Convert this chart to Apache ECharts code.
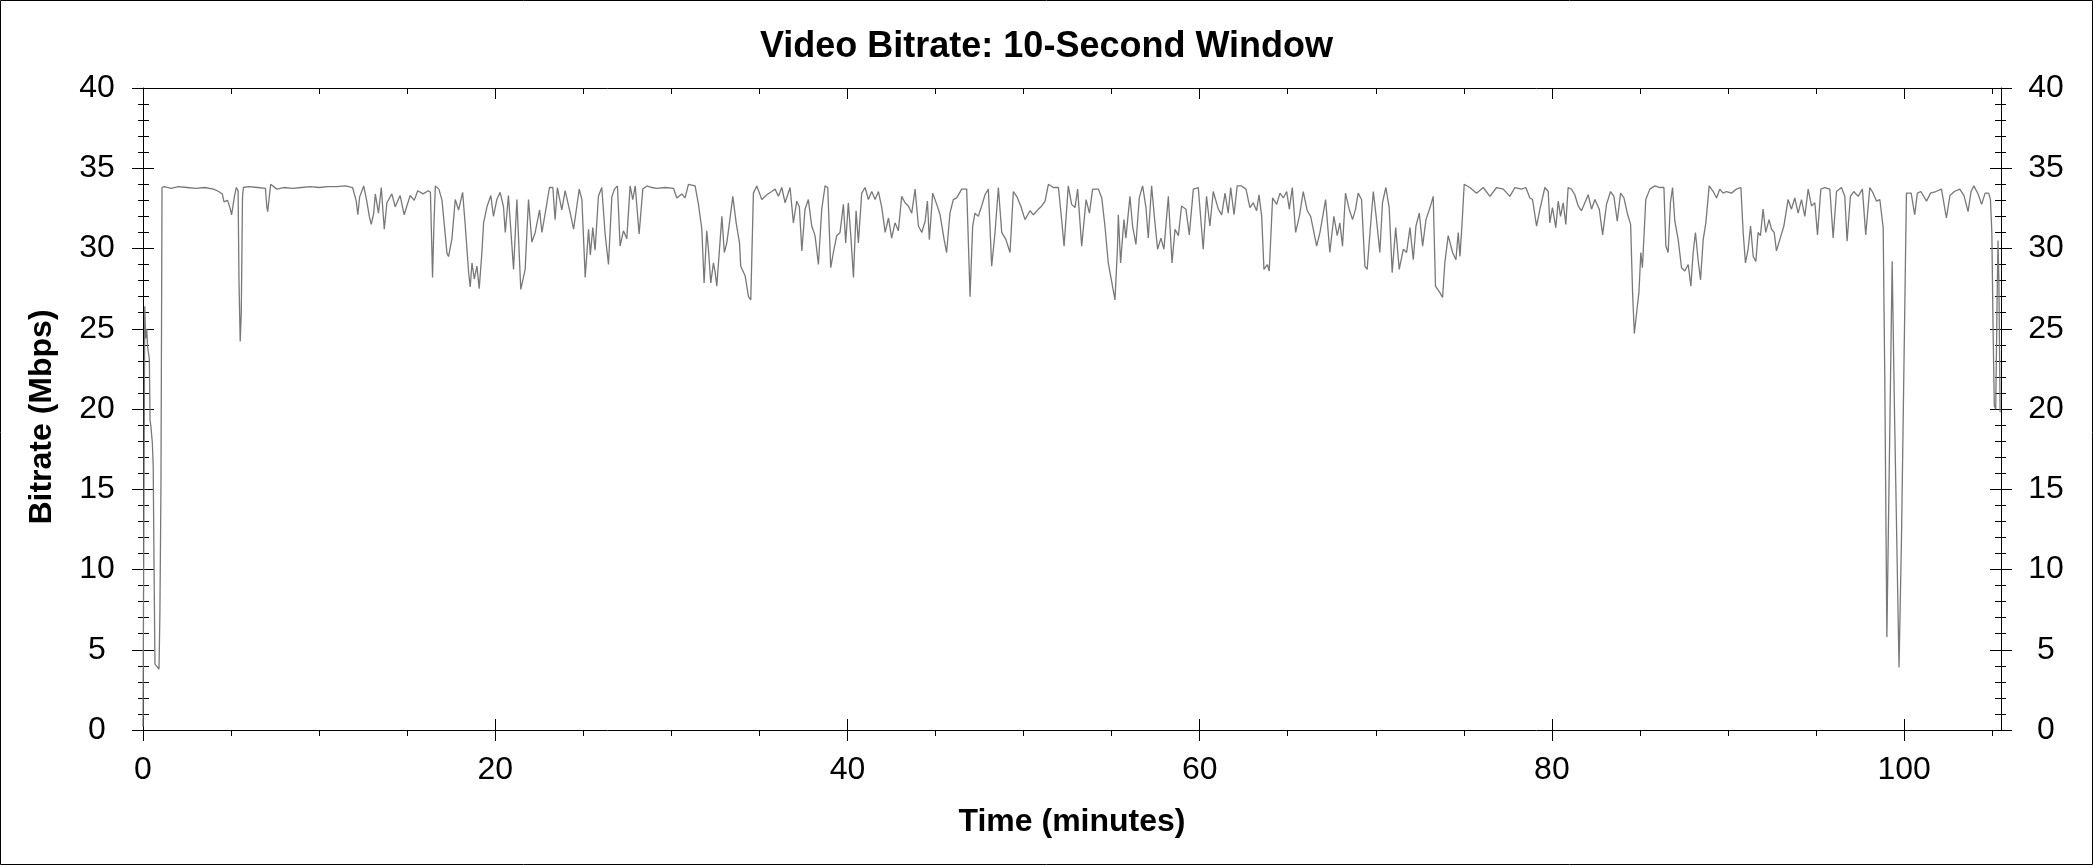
<!DOCTYPE html>
<html>
<head>
<meta charset="utf-8">
<script src="https://cdn.jsdelivr.net/npm/echarts@6.0.0/dist/echarts.min.js"></script>
<style>
html,body{margin:0;padding:0;background:#fff;}
#chart{width:2093px;height:865px;}
</style>
</head>
<body>
<div id="chart"></div>
<script>
const chartTitle = 'Video Bitrate: 10-Second Window';
const xAxisName = 'Time (minutes)';
const yAxisName = 'Bitrate (Mbps)';
const xMajorTicks = [0, 20, 40, 60, 80, 100];
const xMinorTicks = [5, 10, 15, 25, 30, 35, 45, 50, 55, 65, 70, 75, 85, 90, 95, 105];
const xRange = [0, 105.5];
const yRange = [0, 40];
const yStep = 5;

// [minute, Mbps]
const bitrateA = [[0,0.2],[0.1,26.4],[0.15,24.4],[0.21,25.0],[0.26,23.9],[0.36,23.1],[0.40,19.3],[0.45,18.9],[0.53,17.9],[0.58,16.4],[0.62,11.0],[0.68,4.1],[0.77,4.0],[0.91,3.8],[0.96,7.3],[1.02,15.2],[1.08,33.8],[1.2,33.85],[1.6,33.75],[2.0,33.85],[2.5,33.8],[3.0,33.75],[3.5,33.8],[4.0,33.7],[4.3,33.55],[4.5,33.4],[4.6,32.9],[4.8,33.0],[4.95,32.5],[5.03,32.1],[5.2,33.3],[5.3,33.8],[5.4,33.6],[5.45,28.0],[5.52,24.2],[5.58,26.0],[5.65,33.2],[5.7,33.8],[6.0,33.85],[6.5,33.8],[6.95,33.75],[7.03,32.6],[7.08,32.3],[7.15,33.0],[7.25,34.0],[7.6,33.7],[8.0,33.8],[8.5,33.75],[9.0,33.8],[9.5,33.85],[10.0,33.8],[10.5,33.85],[11.0,33.85],[11.5,33.9],[11.9,33.8],[12.1,33.0],[12.2,32.1],[12.3,33.2],[12.53,33.9],[12.7,33.0],[12.85,32.0],[12.96,31.5],[13.1,32.2],[13.19,33.4],[13.37,32.2],[13.53,33.8],[13.7,31.2],[13.85,32.85],[14.13,33.4],[14.32,32.6],[14.6,33.3],[14.83,32.1],[15.17,33.3],[15.4,33.0],[15.6,33.6],[15.9,33.4],[16.2,33.6],[16.32,33.5],[16.4,30.0],[16.44,28.2],[16.52,31.5],[16.6,33.9],[16.8,33.7],[16.98,33.0],[17.26,29.7],[17.35,29.5],[17.54,30.6],[17.73,33.05],[17.92,32.4],[18.15,33.5],[18.3,31.4],[18.49,28.5],[18.58,27.6],[18.68,29.1],[18.81,28.1],[18.96,28.9],[19.09,27.5],[19.24,29.7],[19.34,31.6],[19.53,32.6],[19.75,33.3],[19.9,32.0],[20.09,33.05],[20.28,33.5],[20.47,32.6],[20.57,31.0],[20.75,33.3],[21.04,28.7],[21.23,33.05],[21.45,27.45],[21.7,28.7],[21.89,33.05],[22.08,30.4],[22.27,31.0],[22.52,32.4],[22.65,31.0],[22.84,32.2],[23.08,33.8],[23.27,33.8],[23.4,31.8],[23.53,33.8],[23.78,32.4],[23.97,33.6],[24.26,32.2],[24.45,31.2],[24.77,33.7],[24.92,33.05],[25.11,28.2],[25.3,31.2],[25.4,29.6],[25.54,31.3],[25.67,29.9],[25.86,33.26],[26.05,33.8]];

const bitrateB = [[26.24,30.9],[26.43,29.0],[26.62,33.2],[26.77,33.7],[26.94,33.9],[27.09,30.15],[27.28,31.1],[27.47,30.6],[27.66,33.9],[27.81,33.05],[27.95,33.9],[28.17,30.9],[28.38,33.7],[28.61,33.9],[28.89,33.8],[29.17,33.75],[29.65,33.8],[30.12,33.75],[30.31,33.15],[30.59,33.4],[30.78,33.15],[30.97,34.0],[31.35,33.9],[31.54,32.75],[31.73,31.2],[31.86,27.85],[32.01,31.1],[32.11,29.9],[32.24,27.85],[32.39,29.1],[32.49,28.5],[32.58,27.65],[32.73,29.9],[32.87,32.0],[33.01,29.75],[33.15,30.35],[33.3,31.6],[33.49,33.25],[33.68,31.6],[33.87,30.35],[33.94,28.9],[34.19,28.3],[34.38,27.0],[34.51,26.8],[34.66,33.45],[34.85,33.9],[35.14,33.05],[35.42,33.35],[35.7,33.55],[35.89,33.7],[36.08,33.25],[36.27,33.8],[36.46,32.85],[36.74,33.8],[36.93,31.6],[37.12,32.95],[37.27,32.6],[37.41,29.85],[37.59,32.45],[37.78,33.05],[37.97,31.4],[38.16,30.8],[38.35,29.0],[38.54,32.45],[38.73,33.9],[38.88,33.8],[39.05,28.8],[39.2,29.75],[39.39,30.8],[39.58,31.0],[39.77,32.75],[39.9,30.35],[40.05,32.85],[40.19,30.8],[40.34,28.2],[40.49,32.35],[40.62,30.35],[40.81,33.45],[41.0,33.8],[41.19,33.05],[41.38,33.55],[41.57,33.05],[41.76,33.55],[41.95,32.55],[42.14,31.0],[42.33,31.9],[42.51,30.65],[42.7,31.6],[42.89,31.1],[43.08,33.25],[43.27,32.85],[43.46,32.65],[43.65,32.2],[43.84,33.7],[44.03,31.4],[44.22,31.0],[44.41,31.7],[44.54,32.95],[44.65,30.55],[44.84,33.45],[45.07,32.75],[45.26,32.1],[45.49,30.55],[45.63,29.75],[45.82,32.2],[46.01,33.05],[46.2,33.15],[46.49,33.7],[46.77,33.7],[46.91,28.9],[46.96,27.0],[47.11,31.4],[47.24,32.2],[47.43,32.0],[47.62,32.65],[47.81,33.35],[48.0,33.7],[48.19,28.9],[48.38,31.0],[48.57,33.8],[48.76,31.0],[49.0,30.55],[49.23,29.75],[49.42,33.55],[49.61,33.25],[49.84,32.65],[50.08,31.8],[50.37,32.35],[50.56,32.1],[50.84,32.45],[51.03,32.65],[51.22,32.95],[51.41,34.0],[51.69,33.8],[51.98,33.8]];

const bitrateC = [[52.17,31.7],[52.3,30.15],[52.54,33.9],[52.73,32.75],[52.92,32.55],[53.07,33.7],[53.3,30.15],[53.55,33.05],[53.74,32.2],[53.92,33.7],[54.25,33.7],[54.44,33.15],[54.62,31.4],[54.81,29.1],[55.0,27.95],[55.1,27.85],[55.19,26.8],[55.33,29.95],[55.38,32.1],[55.51,29.1],[55.7,31.8],[55.81,30.65],[56.04,33.25],[56.19,31.4],[56.38,30.25],[56.57,33.15],[56.76,33.9],[56.95,32.55],[57.08,30.65],[57.27,33.9],[57.46,31.6],[57.61,29.95],[57.8,30.65],[57.97,29.95],[58.22,33.25],[58.43,29.1],[58.6,31.2],[58.79,30.8],[58.97,32.65],[59.22,32.45],[59.41,30.85],[59.64,33.7],[59.92,33.8],[60.2,29.95],[60.39,33.25],[60.58,31.4],[60.77,33.55],[61.06,32.45],[61.25,32.1],[61.44,33.45],[61.62,32.2],[61.76,33.8],[61.95,32.1],[62.13,33.9],[62.38,33.9],[62.63,33.7],[62.85,32.55],[63.04,32.85],[63.23,32.35],[63.37,33.35],[63.52,32.0],[63.65,28.7],[63.84,29.0],[63.95,28.6],[64.14,33.15],[64.37,32.75],[64.56,33.45],[64.75,33.15],[64.94,33.55],[65.09,32.45],[65.26,33.8],[65.45,31.0],[65.66,32.0],[65.88,33.55],[66.11,32.35],[66.3,32.0],[66.45,31.2],[66.64,30.15],[66.83,31.0],[67.15,33.05],[67.39,29.75],[67.62,32.0],[67.81,30.8],[67.96,31.6],[68.11,30.15],[68.28,33.45],[68.49,32.45],[68.68,31.8],[68.85,32.45],[69.0,33.45],[69.19,33.05],[69.38,28.9],[69.51,28.7],[69.67,31.0],[69.86,33.55],[70.04,31.8],[70.23,29.75],[70.38,32.85],[70.57,33.8],[70.76,32.55],[70.93,28.5],[71.13,31.3],[71.33,28.7],[71.56,29.95],[71.75,29.75],[71.94,31.3],[72.13,29.3],[72.28,31.4],[72.47,32.2],[72.66,30.15],[72.85,31.8],[73.08,32.55],[73.26,33.25],[73.39,27.65],[73.64,27.25],[73.79,26.95],[73.92,29.1],[74.11,30.8],[74.36,29.75],[74.55,29.3],[74.68,31.0],[74.78,29.5],[74.91,31.8],[75.02,34.0],[75.34,33.8],[75.72,33.45],[76.1,33.8],[76.48,33.25],[76.86,33.8],[77.24,33.7],[77.61,33.25],[77.9,33.8],[78.27,33.7],[78.52,33.8],[78.75,33.15],[78.9,33.05],[79.13,31.4],[79.32,32.45],[79.6,33.8],[79.79,33.55],[79.88,31.6],[80.03,32.55],[80.22,31.3]];

const bitrateD = [[80.36,32.95],[80.49,32.0],[80.64,32.85],[80.79,31.5],[80.92,33.8],[81.11,33.7],[81.3,33.35],[81.49,32.65],[81.68,32.35],[81.87,32.85],[82.06,33.35],[82.25,32.45],[82.44,33.05],[82.69,32.45],[82.88,30.85],[83.1,32.75],[83.33,33.55],[83.52,33.25],[83.71,31.7],[83.9,33.45],[84.09,33.15],[84.28,32.2],[84.47,31.5],[84.58,27.25],[84.68,24.7],[84.81,26.0],[84.94,27.25],[85.05,29.75],[85.14,28.8],[85.33,33.05],[85.56,33.7],[85.85,33.9],[86.13,33.8],[86.36,33.8],[86.47,30.15],[86.6,29.75],[86.73,32.85],[86.85,33.8],[86.98,31.7],[87.17,30.55],[87.36,28.8],[87.55,28.6],[87.74,29.0],[87.89,27.65],[88.02,29.75],[88.15,31.0],[88.3,29.3],[88.44,28.05],[88.59,30.55],[88.74,31.6],[88.93,33.9],[89.16,33.55],[89.35,33.15],[89.53,33.7],[89.72,33.45],[89.91,33.55],[90.2,33.45],[90.48,33.7],[90.73,33.8],[90.86,31.0],[90.99,29.1],[91.14,29.95],[91.28,31.4],[91.43,29.5],[91.58,29.2],[91.71,31.0],[91.84,30.8],[91.99,32.45],[92.14,31.0],[92.33,31.8],[92.47,31.2],[92.62,31.0],[92.75,29.85],[92.94,30.55],[93.17,31.4],[93.41,33.05],[93.6,32.45],[93.79,33.15],[93.98,32.2],[94.17,33.05],[94.36,32.0],[94.55,33.7],[94.74,32.65],[94.93,32.85],[95.08,30.85],[95.27,33.7],[95.49,33.8],[95.78,33.7],[95.97,30.65],[96.16,33.55],[96.44,33.8],[96.63,33.25],[96.76,30.45],[96.95,33.25],[97.14,33.55],[97.39,33.25],[97.63,33.7],[97.82,30.85],[98.05,33.8],[98.24,33.45],[98.43,32.95],[98.62,33.05],[98.81,31.3],[98.9,22.0],[99.02,5.8],[99.32,29.2],[99.45,20.0],[99.71,3.9],[99.85,12.0],[100.13,33.45],[100.4,33.45],[100.6,32.1],[100.75,33.45],[100.95,33.55],[101.27,32.95],[101.5,33.45],[101.8,33.55],[102.12,33.7],[102.4,31.9],[102.6,33.3],[102.85,33.55],[103.16,33.7],[103.4,33.3],[103.63,32.3],[103.8,33.55],[103.96,33.9],[104.2,33.4],[104.4,32.75],[104.6,33.45],[104.8,33.45],[104.9,33.05],[104.98,31.0],[105.05,25.0],[105.12,20.2],[105.2,20.0],[105.27,26.0],[105.33,30.5],[105.38,28.0],[105.45,19.8]];

const font = "'Liberation Sans', Arial, sans-serif";
const black = '#000';

function xAxisDef(position, extra) {
  return Object.assign({
    type: 'value', position: position, min: xRange[0], max: xRange[1],
    axisLine: { show: false, onZero: false },
    splitLine: { show: false },
    axisLabel: { show: false },
    axisTick: { show: false },
    minorTick: { show: false }
  }, extra);
}
function yAxisDef(position, extra) {
  return Object.assign({
    type: 'value', position: position, min: yRange[0], max: yRange[1], interval: yStep,
    axisLine: { show: false, onZero: false },
    splitLine: { show: false },
    axisLabel: { show: false },
    axisTick: { show: false },
    minorTick: { show: false }
  }, extra);
}
const lineBlack = { color: black, width: 1 };

const chart = echarts.init(document.getElementById('chart'), null, { renderer: 'canvas' });
chart.setOption({
  animation: false,
  backgroundColor: '#fff',
  title: {
    text: chartTitle, left: 'center', top: 29, padding: 0,
    textStyle: { fontFamily: font, fontSize: 36, fontWeight: 'bold', color: black }
  },
  grid: { left: 143, right: 92, top: 88, bottom: 135, containLabel: false },
  xAxis: [
    xAxisDef('bottom', {
      axisLine: { show: true, onZero: false, lineStyle: lineBlack },
      axisTick: { show: true, inside: false, length: 11, customValues: xMajorTicks, lineStyle: lineBlack },
      axisLabel: { show: true, customValues: xMajorTicks, margin: 24, fontSize: 32, fontFamily: font, color: black },
      name: xAxisName, nameLocation: 'middle', nameGap: 76,
      nameTextStyle: { fontFamily: font, fontSize: 32, fontWeight: 'bold', color: black }
    }),
    xAxisDef('bottom', {
      axisTick: { show: true, inside: true, length: 11, customValues: xMajorTicks, lineStyle: lineBlack }
    }),
    xAxisDef('bottom', {
      axisTick: { show: true, inside: false, length: 6, customValues: xMinorTicks, lineStyle: lineBlack }
    }),
    xAxisDef('top', {
      axisLine: { show: true, onZero: false, lineStyle: lineBlack },
      axisTick: { show: true, inside: true, length: 11, customValues: xMajorTicks, lineStyle: lineBlack }
    }),
    xAxisDef('top', {
      axisTick: { show: true, inside: true, length: 6, customValues: xMinorTicks, lineStyle: lineBlack }
    })
  ],
  yAxis: [
    yAxisDef('left', {
      axisLine: { show: true, onZero: false, lineStyle: lineBlack },
      axisTick: { show: true, inside: false, length: 11, lineStyle: lineBlack },
      minorTick: { show: true, splitNumber: 5, length: 5, lineStyle: lineBlack },
      axisLabel: { show: true, align: 'center', margin: 46, fontSize: 32, fontFamily: font, color: black },
      name: yAxisName, nameLocation: 'middle', nameGap: 85,
      nameTextStyle: { fontFamily: font, fontSize: 32, fontWeight: 'bold', color: black, padding: [0, 16, 0, 0] }
    }),
    yAxisDef('left', {
      axisTick: { show: true, inside: true, length: 11, lineStyle: lineBlack },
      minorTick: { show: true, splitNumber: 5, length: 6, lineStyle: lineBlack }
    }),
    yAxisDef('right', {
      axisLine: { show: true, onZero: false, lineStyle: lineBlack },
      axisTick: { show: true, inside: false, length: 11, lineStyle: lineBlack },
      minorTick: { show: true, splitNumber: 5, length: 5, lineStyle: lineBlack },
      axisLabel: { show: true, align: 'center', margin: 45, fontSize: 32, fontFamily: font, color: black }
    }),
    yAxisDef('right', {
      axisTick: { show: true, inside: true, length: 11, lineStyle: lineBlack },
      minorTick: { show: true, splitNumber: 5, length: 6, lineStyle: lineBlack }
    })
  ],
  series: [{
    type: 'line',
    xAxisIndex: 0, yAxisIndex: 0,
    data: bitrateA.concat(bitrateB, bitrateC, bitrateD),
    showSymbol: false, symbol: 'none', silent: true,
    lineStyle: { color: '#787878', width: 1.3 },
    z: 1
  }],
  graphic: [{
    type: 'rect', silent: true, z: 100,
    shape: { x: 0.5, y: 0.5, width: 2092, height: 864 },
    style: { fill: 'none', stroke: black, lineWidth: 1 }
  }]
});
</script>
</body>
</html>
